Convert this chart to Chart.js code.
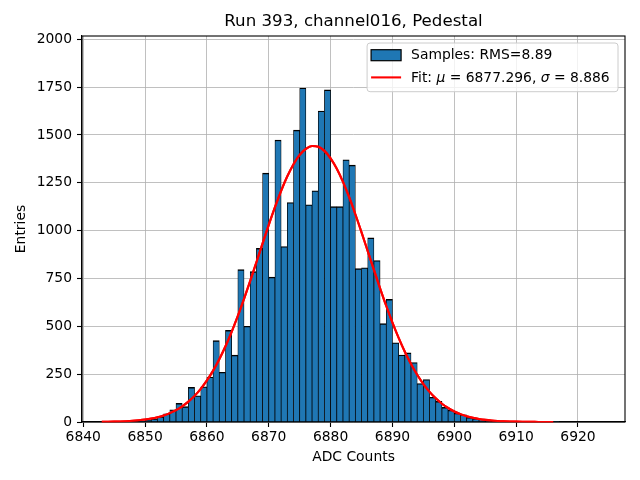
<!DOCTYPE html>
<html><head><meta charset="utf-8">
<script src="https://cdn.jsdelivr.net/npm/chart.js@4.4.0/dist/chart.umd.min.js"></script>
<style>html,body{margin:0;padding:0;background:#fff}canvas{display:block}</style>
</head><body>
<canvas id="c" width="640" height="480"></canvas>
<script>
const titleText = 'Run 393, channel016, Pedestal';
const xLabel = 'ADC Counts';
const yLabel = 'Entries';
const histLabel = 'Samples: RMS=8.89';
const fitLabelParts = [['Fit: ', false], ['μ', true], [' = 6877.296, ', false], ['σ', true], [' = 8.886', false]];

// histogram bins (left edges, width 1 ADC count)
const binLeft = [6843,6844,6845,6846,6847,6848,6849,6850,6851,6852,
  6853,6854,6855,6856,6857,6858,6859,6860,6861,6862,
  6863,6864,6865,6866,6867,6868,6869,6870,6871,6872,
  6873,6874,6875,6876,6877,6878,6879,6880,6881,6882,
  6883,6884,6885,6886,6887,6888,6889,6890,6891,6892,
  6893,6894,6895,6896,6897,6898,6899,6900,6901,6902,
  6903,6904,6905,6906,6907,6908,6909,6910,6911,6912,
  6913,6914,6915,6916];
const entries = [1,0,1,2,2,4,6,11,17,28,
  42,64,97,80,181,137,184,235,425,260,
  479,349,796,500,786,907,1300,757,1473,917,
  1147,1525,1745,1135,1208,1625,1735,1125,1125,1370,
  1342,801,806,962,844,514,641,414,350,361,
  311,201,222,129,108,76,62,46,38,24,
  19,15,10,7,5,3,2,2,1,1,
  0,1,0,1];

// fit curve
const fitX = [6843,6844,6845,6846,6847,6848,6849,6850,6851,6852,
  6853,6854,6855,6856,6857,6858,6859,6860,6861,6862,
  6863,6864,6865,6866,6867,6868,6869,6870,6871,6872,
  6873,6874,6875,6876,6877,6878,6879,6880,6881,6882,
  6883,6884,6885,6886,6887,6888,6889,6890,6891,6892,
  6893,6894,6895,6896,6897,6898,6899,6900,6901,6902,
  6903,6904,6905,6906,6907,6908,6909,6910,6911,6912,
  6913,6914,6915,6916];
const fitY = [0.8,1.3,2.0,2.9,4.3,6.3,9.1,12.9,18.1,25.1,
  34.4,46.5,62.0,81.7,106.3,136.6,173.3,217.1,268.5,328.0,
  395.6,471.1,554.0,643.2,737.5,834.9,933.2,1030.0,1122.6,1208.2,
  1283.8,1347.0,1395.7,1427.7,1442.2,1438.5,1416.7,1377.7,1322.9,1254.4,
  1174.5,1085.6,990.9,893.2,794.8,698.6,606.1,519.3,439.4,367.1,
  302.7,246.6,198.3,157.4,123.5,95.6,73.1,55.2,41.1,30.3,
  22.0,15.8,11.2,7.8,5.4,3.7,2.5,1.7,1.1,0.7,
  0.5,0.3,0.2,0.1];

const xTicks = [6840,6850,6860,6870,6880,6890,6900,6910,6920];
const yTicks = [0,250,500,750,1000,1250,1500,1750,2000];
const xRange = [6839.8, 6927.6];
const yRange = [0, 2017];

const FONT = 'DejaVu Sans';
const FS = 13.89;
Chart.defaults.font.family = FONT;
Chart.defaults.font.size = FS;
Chart.defaults.color = '#000';

const overlay = {
  id: 'overlay',
  afterDraw(chart) {
    const ctx = chart.ctx, a = chart.chartArea;
    // axes frame (spines)
    ctx.save();
    ctx.strokeStyle = '#000';
    ctx.lineWidth = 1.1;
    ctx.strokeRect(a.left, a.top, a.right - a.left, a.bottom - a.top);
    ctx.restore();
    // fit line above grid and bars
    ctx.save();
    ctx.beginPath();
    ctx.rect(a.left, a.top - 2, a.right - a.left, a.bottom - a.top + 2.5);
    ctx.clip();
    chart.getDatasetMeta(1).controller.draw();
    ctx.restore();
    // legend
    ctx.save();
    ctx.font = FS + 'px "' + FONT + '"';
    const w1 = ctx.measureText(histLabel).width;
    let w2 = 0;
    fitLabelParts.forEach(([t, it]) => {
      ctx.font = (it ? 'italic ' : '') + FS + 'px "' + FONT + '"';
      w2 += ctx.measureText(t).width;
    });
    const right = a.right - 7, top = a.top + 7;
    const left = right - (44 + Math.max(w1, w2) + 8.3);
    const h = 48.7;
    ctx.beginPath();
    ctx.roundRect(left, top, right - left, h, 3);
    ctx.fillStyle = 'rgba(255,255,255,0.8)';
    ctx.fill();
    ctx.strokeStyle = '#cccccc';
    ctx.lineWidth = 1;
    ctx.stroke();
    ctx.fillStyle = '#1f77b4';
    ctx.fillRect(left + 4, top + 6.7, 30, 11);
    ctx.strokeStyle = '#000';
    ctx.lineWidth = 1.2;
    ctx.strokeRect(left + 4, top + 6.7, 30, 11);
    ctx.beginPath();
    ctx.moveTo(left + 4, top + 34.4);
    ctx.lineTo(left + 34, top + 34.4);
    ctx.strokeStyle = '#ff0000';
    ctx.lineWidth = 2.1;
    ctx.stroke();
    ctx.fillStyle = '#000';
    ctx.textBaseline = 'middle';
    ctx.textAlign = 'left';
    ctx.font = FS + 'px "' + FONT + '"';
    ctx.fillText(histLabel, left + 44, top + 12.7);
    let x = left + 44;
    fitLabelParts.forEach(([t, it]) => {
      ctx.font = (it ? 'italic ' : '') + FS + 'px "' + FONT + '"';
      ctx.fillText(t, x, top + 35.3);
      x += ctx.measureText(t).width;
    });
    ctx.restore();
  }
};

new Chart(document.getElementById('c'), {
  type: 'bar',
  data: {
    datasets: [
      {
        type: 'bar', label: histLabel, order: 1,
        data: binLeft.map((b, i) => ({x: b + 0.5, y: entries[i]})),
        backgroundColor: '#1f77b4', borderColor: '#000',
        borderWidth: {top: 1.4, left: 0.75, right: 0.75, bottom: 0},
        borderSkipped: false, inflateAmount: 0.35,
        barPercentage: 1, categoryPercentage: 1
      },
      {
        type: 'line', label: 'Fit', order: 0,
        data: fitX.map((x, i) => ({x: x, y: fitY[i]})),
        borderColor: '#ff0000', borderWidth: 2.1, pointRadius: 0, fill: false,
        cubicInterpolationMode: 'monotone'
      }
    ]
  },
  options: {
    responsive: false, animation: false, devicePixelRatio: 1,
    layout: {padding: {left: 0, right: 15, top: 0, bottom: 0}},
    plugins: {
      legend: {display: false},
      tooltip: {enabled: false},
      title: {display: true, text: titleText, fullSize: false, color: '#000',
        font: {size: 16.67, weight: 'normal'}, padding: {top: 12, bottom: 4}}
    },
    scales: {
      x: {
        type: 'linear', min: xRange[0], max: xRange[1], offset: false, z: 1,
        grid: {offset: false, color: '#b0b0b0', lineWidth: 0.8, tickColor: '#000', tickLength: 5, tickWidth: 1.1},
        border: {color: '#000', width: 1.1},
        ticks: {padding: 2, includeBounds: false, autoSkip: false, maxRotation: 0, callback: v => String(v)},
        afterBuildTicks: s => { s.ticks = xTicks.map(v => ({value: v})); },
        afterFit: s => { s.height = 58; },
        title: {display: true, text: xLabel, padding: {top: 0, bottom: 14.7}}
      },
      y: {
        type: 'linear', min: yRange[0], max: yRange[1], z: 1,
        grid: {color: '#b0b0b0', lineWidth: 0.8, tickColor: '#000', tickLength: 5, tickWidth: 1.1},
        border: {color: '#000', width: 1.1},
        ticks: {padding: 5, includeBounds: false, autoSkip: false, callback: v => String(v)},
        afterBuildTicks: s => { s.ticks = yTicks.map(v => ({value: v})); },
        afterFit: s => { s.width = 82; },
        title: {display: true, text: yLabel, padding: {top: 12.6, bottom: 0}}
      }
    }
  },
  plugins: [overlay]
});
</script>
</body></html>
